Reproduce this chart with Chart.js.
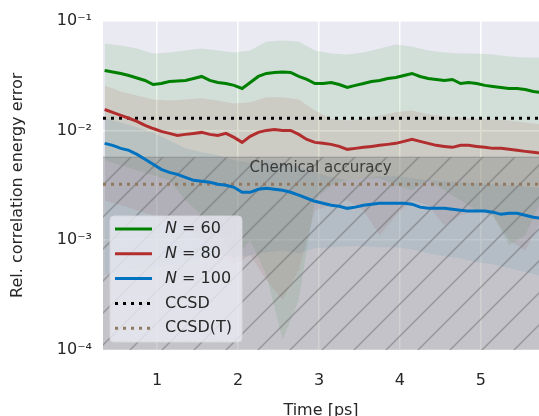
<html>
<head>
<title>Relative correlation energy error</title>
<style>
  body { margin: 0; background: #ffffff; }
  #chart { position: absolute; left: 0; top: 0; }
</style>
</head>
<body>
<canvas id="chart" width="539" height="416"></canvas>
<script src="https://cdn.jsdelivr.net/npm/chart.js@4.4.1/dist/chart.umd.min.js"></script>
<script>
// time axis of the mean curves [ps]
const time = [0.35, 0.45, 0.55, 0.65, 0.75, 0.85, 0.95, 1.05, 1.15, 1.25, 1.35, 1.45, 1.55, 1.65,
  1.75, 1.85, 1.95, 2.05, 2.15, 2.25, 2.35, 2.45, 2.55, 2.65, 2.75, 2.85, 2.95, 3.05, 3.15, 3.25,
  3.35, 3.45, 3.55, 3.65, 3.75, 3.85, 3.95, 4.05, 4.15, 4.25, 4.35, 4.45, 4.55, 4.65, 4.75, 4.85,
  4.95, 5.05, 5.15, 5.25, 5.35, 5.45, 5.55, 5.65, 5.75];

const n60 = [0.0351, 0.0341, 0.0330, 0.0316, 0.0300, 0.0285, 0.0262, 0.0267, 0.0279, 0.0282, 0.0285,
  0.0297, 0.0310, 0.0285, 0.0273, 0.0267, 0.0257, 0.0241, 0.0273, 0.0310, 0.0330, 0.0337, 0.0341,
  0.0337, 0.0310, 0.0291, 0.0267, 0.0267, 0.0273, 0.0262, 0.0246, 0.0257, 0.0267, 0.0279, 0.0285,
  0.0297, 0.0303, 0.0316, 0.0330, 0.0310, 0.0297, 0.0291, 0.0285, 0.0291, 0.0267, 0.0273, 0.0267,
  0.0257, 0.0251, 0.0246, 0.0241, 0.0241, 0.0236, 0.0226, 0.0221];

const n80 = [0.0155, 0.0146, 0.0137, 0.0129, 0.0121, 0.0111, 0.0104, 0.00979, 0.00939, 0.00901, 0.00920,
  0.00939, 0.00959, 0.00920, 0.00901, 0.00939, 0.00864, 0.00778, 0.00882, 0.00959, 0.0100, 0.0102,
  0.0100, 0.0100, 0.00920, 0.00828, 0.00778, 0.00762, 0.00746, 0.00715, 0.00672, 0.00686, 0.00701,
  0.00715, 0.00731, 0.00746, 0.00762, 0.00794, 0.00828, 0.00794, 0.00762, 0.00731, 0.00715, 0.00701,
  0.00731, 0.00731, 0.00715, 0.00701, 0.00686, 0.00686, 0.00672, 0.00658, 0.00644, 0.00631, 0.00618];

const n100 = [0.00762, 0.00731, 0.00686, 0.00658, 0.00605, 0.00545, 0.00491, 0.00442, 0.00415, 0.00398,
  0.00374, 0.00351, 0.00344, 0.00337, 0.00323, 0.00316, 0.00303, 0.00273, 0.00273, 0.00291, 0.00297,
  0.00291, 0.00285, 0.00273, 0.00257, 0.00241, 0.00226, 0.00217, 0.00208, 0.00204, 0.00195, 0.00200,
  0.00208, 0.00213, 0.00217, 0.00217, 0.00217, 0.00217, 0.00213, 0.00200, 0.00195, 0.00195, 0.00195,
  0.00191, 0.00187, 0.00184, 0.00184, 0.00184, 0.00180, 0.00172, 0.00176, 0.00176, 0.00169, 0.00162,
  0.00158];

// time axis of the spread bands [ps]
const bandTime = [0.35, 0.55, 0.75, 0.95, 1.15, 1.35, 1.55, 1.75, 1.95, 2.15, 2.35, 2.55, 2.75, 2.95,
  3.15, 3.35, 3.55, 3.75, 3.95, 4.15, 4.35, 4.55, 4.75, 4.95, 5.15, 5.35, 5.55, 5.75];

const n60Hi = [0.0618, 0.0593, 0.0556, 0.0501, 0.0512, 0.0534, 0.0556, 0.0534, 0.0512, 0.0534, 0.0644,
  0.0658, 0.0644, 0.0534, 0.0501, 0.0490, 0.0512, 0.0556, 0.0605, 0.0580, 0.0534, 0.0512, 0.0501,
  0.0501, 0.0490, 0.0471, 0.0461, 0.0461];
const n60Lo = [0.00534, 0.00481, 0.00433, 0.00390, 0.00351, 0.00231, 0.00169, 0.00123, 0.00066, 0.00100,
  0.000481, 0.000123, 0.000285, 0.00231, 0.00316, 0.00351, 0.00366, 0.00366, 0.00316, 0.00285, 0.00351,
  0.00285, 0.00231, 0.00187, 0.00169, 0.000901, 0.00111, 0.00231];

const n80Hi = [0.0257, 0.0226, 0.0208, 0.0191, 0.0187, 0.0191, 0.0196, 0.0187, 0.0176, 0.0180, 0.0200,
  0.0200, 0.0191, 0.0152, 0.0128, 0.0123, 0.0128, 0.0137, 0.0146, 0.0152, 0.0140, 0.0134, 0.0131,
  0.0128, 0.0126, 0.0123, 0.0118, 0.0113];
const n80Lo = [0.00231, 0.00208, 0.00187, 0.00169, 0.00152, 0.00137, 0.00100, 0.000811, 0.000593,
  0.000731, 0.000433, 0.000285, 0.000534, 0.00187, 0.00208, 0.00231, 0.00187, 0.00111, 0.00169, 0.00231,
  0.00208, 0.00137, 0.00169, 0.00187, 0.00169, 0.00100, 0.000811, 0.00152];

const n100Hi = [0.0129, 0.0118, 0.0106, 0.00959, 0.00811, 0.00686, 0.00631, 0.00593, 0.00534, 0.00512,
  0.00534, 0.00501, 0.00471, 0.00415, 0.00374, 0.00351, 0.00366, 0.00382, 0.00382, 0.00366, 0.00351,
  0.00344, 0.00337, 0.00330, 0.00323, 0.00316, 0.00310, 0.00297];
const n100Lo = [0.000481, 0.000512, 0.000534, 0.000556, 0.000593, 0.000631, 0.000686, 0.000731, 0.000701,
  0.000731, 0.000778, 0.000811, 0.000762, 0.000846, 0.000864, 0.000882, 0.000882, 0.000864, 0.000864,
  0.000828, 0.000762, 0.000715, 0.000686, 0.000631, 0.000605, 0.000556, 0.000512, 0.000471];

const seriesLabels = ['N = 60', 'N = 80', 'N = 100'];
const refLabels = ['CCSD', 'CCSD(T)'];
const refValues = [0.0129, 0.00323];
const chemAccuracy = 0.0057;
const chemLabel = 'Chemical accuracy';

const xLim = [0.33, 5.72];
const yLim = [1e-4, 1e-1];
const xTicks = [1, 2, 3, 4, 5];
const yTicks = [1e-4, 1e-3, 1e-2, 1e-1];
const yTickLabels = ['10\u207B\u2074', '10\u207B\u00B3', '10\u207B\u00B2', '10\u207B\u00B9'];

const seriesColors = ['#008000', '#B22E2E', '#0072C0'];
const bandColors = ['rgba(0,128,0,0.10)', 'rgba(178,34,34,0.10)', 'rgba(0,114,192,0.10)'];
const refColors = ['#000000', '#937860'];

const FONT = '"DejaVu Sans", sans-serif';
const TEXT = '#262626';

function pts(xs, ys) {
  return xs.map((x, i) => ({x: x, y: ys[i]}));
}

// gray hatched fill for the chemical accuracy region
function hatchPattern() {
  const c = document.createElement('canvas');
  c.width = 32; c.height = 32;
  const g = c.getContext('2d');
  g.fillStyle = 'rgba(128,128,128,0.36)';
  g.fillRect(0, 0, 32, 32);
  g.strokeStyle = 'rgba(95,95,100,0.45)';
  g.lineWidth = 1.5;
  g.beginPath();
  g.moveTo(-2, 34); g.lineTo(34, -2);
  g.moveTo(-2, 2); g.lineTo(2, -2);
  g.moveTo(30, 34); g.lineTo(34, 30);
  g.stroke();
  return g.createPattern(c, 'repeat');
}

const datasets = [];
[n60, n80, n100].forEach((d, i) => {
  datasets.push({
    label: seriesLabels[i], data: pts(time, d), borderColor: seriesColors[i],
    borderWidth: 3, pointRadius: 0, fill: false, tension: 0
  });
});
refValues.forEach((v, i) => {
  datasets.push({
    label: refLabels[i], data: pts(xLim, [v, v]), borderColor: refColors[i],
    borderWidth: 3, borderDash: [3, 5], pointRadius: 0, fill: false
  });
});
datasets.push({
  label: 'span', data: pts(xLim, [chemAccuracy, chemAccuracy]), borderColor: 'rgba(110,110,115,0.5)',
  borderWidth: 1, pointRadius: 0, fill: 'start', backgroundColor: hatchPattern()
});
[[n60Hi, n60Lo], [n80Hi, n80Lo], [n100Hi, n100Lo]].forEach((b, i) => {
  datasets.push({
    label: 'band', data: pts(bandTime, b[0]), borderWidth: 0, pointRadius: 0,
    borderColor: 'transparent', backgroundColor: bandColors[i], fill: '+1'
  });
  datasets.push({
    label: 'band', data: pts(bandTime, b[1]), borderWidth: 0, pointRadius: 0,
    borderColor: 'transparent', fill: false
  });
});

const bgPlugin = {
  id: 'bg',
  beforeDraw(chart) {
    const {ctx, chartArea: a} = chart;
    ctx.save();
    ctx.fillStyle = '#EAEAF2';
    ctx.fillRect(a.left, a.top, a.width, a.height);
    ctx.restore();
  }
};

const notePlugin = {
  id: 'note',
  afterDatasetsDraw(chart) {
    const {ctx, scales} = chart;
    ctx.save();
    ctx.font = '15px ' + FONT;
    ctx.fillStyle = 'rgba(40,40,40,0.85)';
    ctx.textAlign = 'center';
    ctx.textBaseline = 'middle';
    ctx.fillText(chemLabel, scales.x.getPixelForValue(3.02), scales.y.getPixelForValue(0.0045));
    ctx.restore();
  }
};

const legendPlugin = {
  id: 'boxLegend',
  afterDraw(chart) {
    const {ctx, chartArea: a} = chart;
    const w = 132, h = 126;
    const x0 = a.left + 7, y0 = a.bottom - 8 - h;
    ctx.save();
    ctx.beginPath();
    ctx.roundRect(x0, y0, w, h, 4);
    ctx.fillStyle = 'rgba(234,234,242,0.8)';
    ctx.fill();
    ctx.strokeStyle = 'rgba(215,215,220,0.9)';
    ctx.lineWidth = 1;
    ctx.stroke();
    for (let i = 0; i < 5; i++) {
      const ds = chart.data.datasets[i];
      const y = y0 + 13 + i * 24.8;
      ctx.beginPath();
      ctx.strokeStyle = ds.borderColor;
      ctx.lineWidth = 3;
      ctx.setLineDash(ds.borderDash || []);
      ctx.moveTo(x0 + 5, y);
      ctx.lineTo(x0 + 42, y);
      ctx.stroke();
      ctx.setLineDash([]);
      ctx.fillStyle = TEXT;
      ctx.textBaseline = 'middle';
      let tx = x0 + 55;
      let label = ds.label;
      if (label.startsWith('N ')) {
        ctx.font = 'italic 16px ' + FONT;
        ctx.fillText('N', tx, y);
        tx += ctx.measureText('N').width;
        label = label.slice(1);
      }
      ctx.font = '16px ' + FONT;
      ctx.fillText(label, tx, y);
    }
    ctx.restore();
  }
};

new Chart(document.getElementById('chart'), {
  type: 'line',
  data: {datasets: datasets},
  plugins: [bgPlugin, notePlugin, legendPlugin],
  options: {
    responsive: false,
    animation: false,
    devicePixelRatio: 1,
    layout: {padding: {top: 20, right: 0, bottom: 0, left: 0}},
    plugins: {legend: {display: false}, tooltip: {enabled: false}},
    scales: {
      x: {
        type: 'linear', min: xLim[0], max: xLim[1],
        afterBuildTicks: s => { s.ticks = xTicks.map(v => ({value: v})); },
        afterFit: s => { s.height = 66; },
        grid: {color: '#FFFFFF', lineWidth: 1.5, drawTicks: false},
        border: {display: false},
        ticks: {color: TEXT, font: {family: FONT, size: 16}, padding: 21, maxRotation: 0},
        title: {display: true, text: 'Time [ps]', color: TEXT, font: {family: FONT, size: 16},
          padding: {top: 0, bottom: -4}}
      },
      y: {
        type: 'logarithmic', min: yLim[0], max: yLim[1],
        afterBuildTicks: s => { s.ticks = yTicks.map(v => ({value: v})); },
        afterFit: s => { s.width = 103; },
        grid: {color: '#FFFFFF', lineWidth: 1.5, drawTicks: false},
        border: {display: false},
        ticks: {
          color: TEXT, font: {family: FONT, size: 16}, padding: 11,
          callback: (v) => yTickLabels[yTicks.findIndex(t => Math.abs(t - v) / t < 1e-6)]
        },
        title: {display: true, text: 'Rel. correlation energy error', color: TEXT,
          font: {family: FONT, size: 16}, padding: {top: 8, bottom: 0}}
      }
    }
  }
});
</script>
</body>
</html>
